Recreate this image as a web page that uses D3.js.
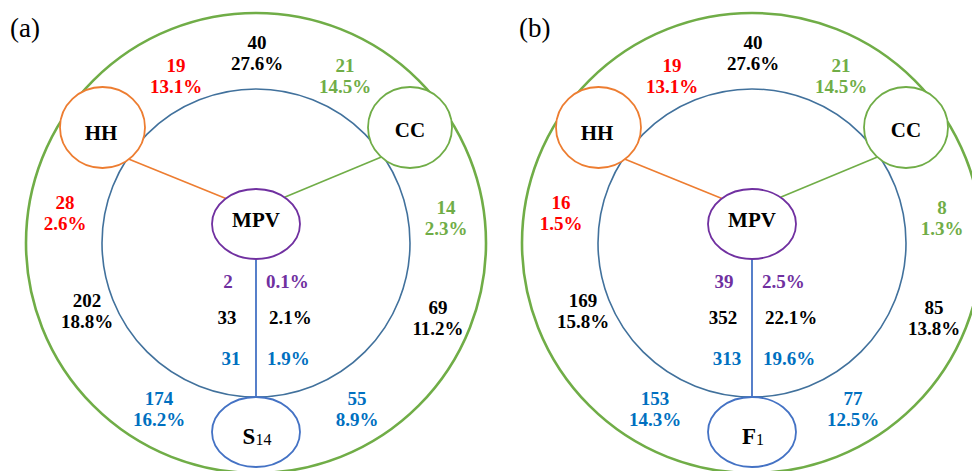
<!DOCTYPE html>
<html>
<head>
<meta charset="utf-8">
<script src="https://cdn.jsdelivr.net/npm/d3@7"></script>
<style>
  html, body { margin: 0; padding: 0; background: #fff; }
  svg { display: block; }
</style>
</head>
<body>
<svg id="chart" width="972" height="471"></svg>
<script>
// ---- data -------------------------------------------------------------
const panels = ["(a)", "(b)"];
const hubName = "MPV";
const leftName = "HH";
const rightName = "CC";
const bottomNode = ["S", "F"];
const bottomSub = ["14", "1"];

// counts and shares per region, one entry per panel
const allThreeCount = [40, 40];    const allThreePct = [27.6, 27.6];
const hhTopCount = [19, 19];       const hhTopPct = [13.1, 13.1];
const ccTopCount = [21, 21];       const ccTopPct = [14.5, 14.5];
const hhSideCount = [28, 16];      const hhSidePct = [2.6, 1.5];
const ccSideCount = [14, 8];       const ccSidePct = [2.3, 1.3];
const leftCount = [202, 169];      const leftPct = [18.8, 15.8];
const rightCount = [69, 85];       const rightPct = [11.2, 13.8];
const lowLeftCount = [174, 153];   const lowLeftPct = [16.2, 14.3];
const lowRightCount = [55, 77];    const lowRightPct = [8.9, 12.5];
const hubCount = [2, 39];          const hubPct = [0.1, 2.5];
const coreCount = [33, 352];       const corePct = [2.1, 22.1];
const linkCount = [31, 313];       const linkPct = [1.9, 19.6];

// ---- styles -----------------------------------------------------------
const C = {
  green: "#70AD47", blue: "#41719C", nodeBlue: "#4472C4", orange: "#ED7D31",
  purple: "#7030A0", red: "#FF0000", textBlue: "#0070C0", black: "#000000"
};
const serif = "'Times New Roman', 'Liberation Serif', serif";

// two-line region labels: count above, share below (positions relative to circle centre)
const regions = [
  { n: allThreeCount, p: allThreePct, color: C.black,    dx: 1,    y: -201 },
  { n: hhTopCount,    p: hhTopPct,    color: C.red,      dx: -80,  y: -178 },
  { n: ccTopCount,    p: ccTopPct,    color: C.green,    dx: 89,   y: -178 },
  { n: hhSideCount,   p: hhSidePct,   color: C.red,      dx: -191, y: -41 },
  { n: ccSideCount,   p: ccSidePct,   color: C.green,    dx: 190,  y: -36 },
  { n: leftCount,     p: leftPct,     color: C.black,    dx: -169, y: 57 },
  { n: rightCount,    p: rightPct,    color: C.black,    dx: 182,  y: 64 },
  { n: lowLeftCount,  p: lowLeftPct,  color: C.textBlue, dx: -97,  y: 155 },
  { n: lowRightCount, p: lowRightPct, color: C.textBlue, dx: 101,  y: 155 }
];
// labels along the vertical link: count on the left, share on the right
const column = [
  { n: hubCount,  p: hubPct,  color: C.purple,   nx: -28, px: 10, y: 38 },
  { n: coreCount, p: corePct, color: C.black,    nx: -29, px: 13, y: 74 },
  { n: linkCount, p: linkPct, color: C.textBlue, nx: -25, px: 11, y: 115 }
];

const fmtPct = v => d3.format(".1f")(v) + "%";

// ---- layout -----------------------------------------------------------
const svg = d3.select("#chart");
const x = d3.scaleBand().domain(panels).range([8, 8 + 2 * 496]);
const cy = 243, outerR = 230, innerR = 154;
const labelX = [2, 15];

const hub = { x: 0, y: -19, rx: 44, ry: 35 };
const hh = { x: -153.5, y: -115.5, rx: 42.5, ry: 40.5 };
const cc = { x: 154, y: -115.5, rx: 42, ry: 40.5 };
const bot = { x: 0, y: 189, rx: 44, ry: 35 };

const onCircle = (deg) => [innerR * Math.cos(deg * Math.PI / 180), innerR * Math.sin(deg * Math.PI / 180)];
const onEllipse = (e, deg) => [e.x + e.rx * Math.cos(deg * Math.PI / 180), e.y + e.ry * Math.sin(deg * Math.PI / 180)];

panels.forEach((name, i) => {
  const cx = x(name) + x.bandwidth() / 2;

  svg.append("text")
    .attr("x", x(name) + labelX[i]).attr("y", 28).attr("dy", "0.35em")
    .attr("font-family", "'Book Antiqua', Palatino, 'Liberation Serif', serif")
    .attr("font-size", 27).attr("fill", "#000").text(name);

  const g = svg.append("g").attr("transform", `translate(${cx},${cy})`);

  g.append("circle").attr("r", outerR).attr("fill", "none")
    .attr("stroke", C.green).attr("stroke-width", 2.6);
  g.append("circle").attr("r", innerR).attr("fill", "none")
    .attr("stroke", C.blue).attr("stroke-width", 1.6);

  const line = d3.line();
  g.append("path").attr("d", line([onCircle(213.3), onEllipse(hub, 226.8)]))
    .attr("stroke", C.orange).attr("stroke-width", 1.6).attr("fill", "none");
  g.append("path").attr("d", line([onCircle(-34.3), onEllipse(hub, -49.6)]))
    .attr("stroke", C.green).attr("stroke-width", 1.6).attr("fill", "none");
  g.append("path").attr("d", line([[0, hub.y + hub.ry], [0, bot.y - bot.ry]]))
    .attr("stroke", C.nodeBlue).attr("stroke-width", 1.8).attr("fill", "none");

  const ellipse = (e, color) => g.append("ellipse")
    .attr("cx", e.x).attr("cy", e.y).attr("rx", e.rx).attr("ry", e.ry)
    .attr("fill", "#fff").attr("stroke", color).attr("stroke-width", 1.8);
  ellipse(hh, C.orange);
  ellipse(cc, C.green);
  ellipse(hub, C.purple);
  ellipse(bot, C.nodeBlue);

  const nodeText = (tx, ty, t) => g.append("text")
    .attr("x", tx).attr("y", ty).attr("dy", "0.35em").attr("text-anchor", "middle")
    .attr("font-family", serif).attr("font-weight", "bold").attr("font-size", 21)
    .attr("fill", "#000").text(t);
  nodeText(-155, -110, leftName);
  nodeText(154, -113, rightName);
  nodeText(0, -23, hubName);
  const bt = nodeText(1, 194, null);
  bt.append("tspan").attr("font-size", 23).text(bottomNode[i]);
  bt.append("tspan").attr("font-size", 16).attr("font-weight", "normal")
    .attr("dy", "1").text(bottomSub[i]);

  const label = (tx, ty, t, color, anchor) => g.append("text")
    .attr("x", tx).attr("y", ty).attr("dy", "0.35em").attr("text-anchor", anchor)
    .attr("font-family", serif).attr("font-weight", "bold").attr("font-size", 19)
    .attr("fill", color).text(t);

  regions.forEach(r => {
    label(r.dx, r.y, r.n[i], r.color, "middle");
    label(r.dx, r.y + 21, fmtPct(r.p[i]), r.color, "middle");
  });
  column.forEach(r => {
    label(r.nx, r.y, r.n[i], r.color, "middle");
    label(r.px, r.y, fmtPct(r.p[i]), r.color, "start");
  });
});
</script>
</body>
</html>
